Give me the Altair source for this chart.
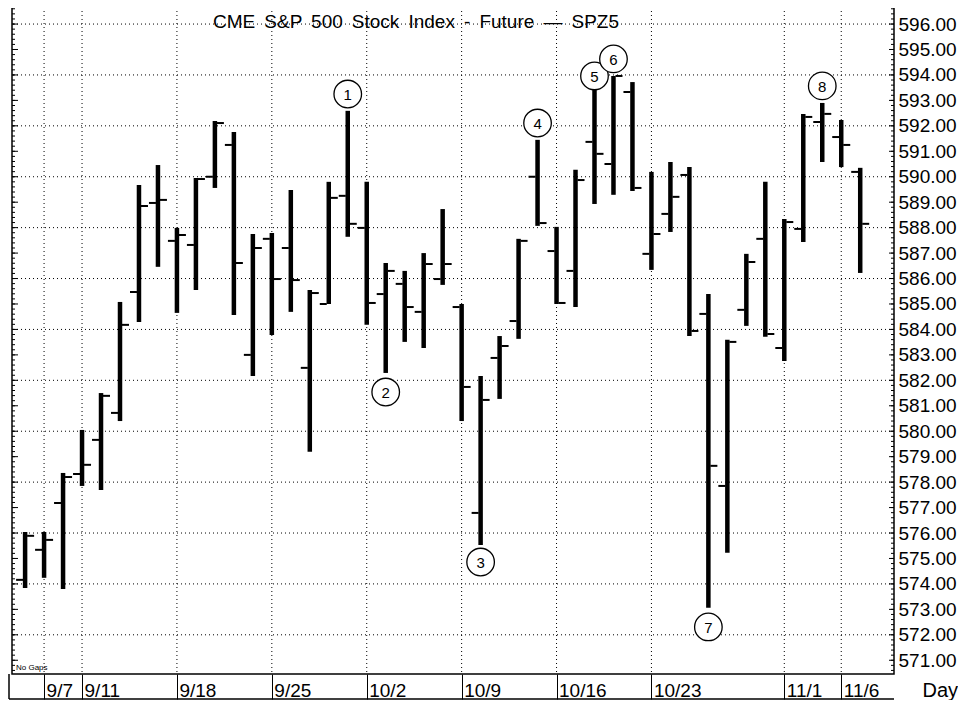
import altair as alt
import pandas as pd

# ---------------- data ----------------
dates = ["9/6", "9/7", "9/8", "9/11", "9/12", "9/13", "9/14", "9/15",
         "9/18", "9/19", "9/20", "9/21", "9/22", "9/25", "9/26", "9/27",
         "9/28", "9/29", "10/2", "10/3", "10/4", "10/5", "10/6", "10/9",
         "10/10", "10/11", "10/12", "10/13", "10/16", "10/17", "10/18",
         "10/19", "10/20", "10/23", "10/24", "10/25", "10/26", "10/27",
         "10/30", "10/31", "11/1", "11/2", "11/3", "11/6", "11/7"]
opens = [574.16, 575.34, 577.18, 578.32, 579.66, 580.72, 585.47, 588.97,
         587.48, 587.32, 590.00, 591.25, 583.00, 587.56, 587.20, 582.49,
         585.00, 589.25, 587.99, 585.39, 585.79, 584.69, 585.98, 584.88,
         576.79, 582.88, 584.33, 590.00, 587.08, 586.30, 591.37, 590.50,
         593.33, 586.97, 588.54, 590.07, 584.61, 577.85, 584.77, 587.56,
         583.27, 587.95, 592.15, 591.56, 590.19]
highs = [576.04, 576.04, 578.36, 580.05, 581.50, 585.08, 589.68, 590.46,
         587.99, 589.95, 592.19, 591.76, 587.75, 587.79, 589.48, 585.55,
         589.80, 592.59, 589.80, 586.61, 586.30, 587.00, 588.73, 585.00,
         582.17, 583.74, 587.56, 591.45, 588.03, 590.27, 593.41, 593.96,
         593.72, 590.19, 590.58, 590.38, 585.39, 583.59, 586.97, 589.80,
         588.34, 592.47, 592.90, 592.23, 590.35]
lows = [573.84, 574.24, 573.80, 577.85, 577.69, 580.40, 584.29, 586.46,
        584.65, 585.55, 589.56, 584.57, 582.17, 583.78, 584.69, 579.19,
        585.00, 587.64, 584.18, 582.29, 583.51, 583.27, 585.75, 580.40,
        575.53, 581.27, 583.63, 588.07, 585.00, 584.88, 588.93, 589.29,
        589.44, 586.34, 587.83, 583.74, 573.06, 575.22, 584.14, 583.71,
        582.76, 587.44, 590.58, 590.38, 586.22]
closes = [575.89, 575.73, 578.20, 578.68, 581.39, 584.18, 588.85, 589.09,
          587.71, 589.91, 592.11, 586.61, 587.20, 585.98, 585.94, 585.43,
          589.17, 588.15, 585.04, 586.30, 584.88, 586.57, 586.57, 581.74,
          581.23, 583.35, 587.48, 588.18, 585.04, 589.87, 590.90, 593.96,
          589.56, 587.75, 589.21, 583.94, 578.64, 583.51, 586.65, 583.82,
          588.22, 592.35, 592.47, 591.25, 588.15]

label_dates = ["9/7", "9/11", "9/18", "9/25", "10/2", "10/9", "10/16",
               "10/23", "11/1", "11/6"]

marker_nums = ["1", "2", "3", "4", "5", "6", "7", "8"]
marker_dates = ["9/29", "10/3", "10/10", "10/13", "10/18", "10/19", "10/26", "11/3"]
marker_prices = [593.25, 581.54, 574.86, 592.11, 593.96, 594.63, 572.31, 593.57]

price_labels = list(range(571, 597))
grid_prices = list(range(572, 597, 2))
minor_ticks = [round(570.6 + 0.2 * k, 1) for k in range(131)]

GAP = " \u2009"
title_text = GAP.join(["CME", "S&P", "500", "Stock", "Index", "-", "Future",
                       "\u2014", "SPZ5"])

# ---------------- layout ----------------
W, H = 882, 667
FONT = "Liberation Sans"
xs = alt.Scale(domain=[0.31, 46.78], nice=False, zero=False)
ys = alt.Scale(domain=[570.46, 596.67], nice=False, zero=False)

day_of = {d: i + 1 for i, d in enumerate(dates)}
bars = pd.DataFrame({"day": range(1, len(dates) + 1), "date": dates,
                     "open": opens, "high": highs, "low": lows, "close": closes})
vgrid = pd.DataFrame({"day": [day_of[d] for d in label_dates]})
hgrid = pd.DataFrame({"p": grid_prices})
marks = pd.DataFrame({"day": [day_of[d] for d in marker_dates],
                      "p": marker_prices, "n": marker_nums})
majors = pd.DataFrame({"p": price_labels})
minors = pd.DataFrame({"p": minor_ticks})

label_expr = "[" + ",".join("'" + d + "'" for d in [""] + dates) + "][datum.value]"

XAX = alt.Axis(values=[day_of[d] for d in label_dates],
               labelExpr=label_expr, grid=False, domain=False,
               ticks=True, tickSize=25, tickColor="black", tickWidth=1,
               labelAlign="left", labelBaseline="alphabetic",
               labelPadding=-3, labelOffset=2, labelFont=FONT,
               labelFontSize=19, labelColor="black", labelFlush=False,
               labelOverlap=False,
               title="Day", titleX=W + 28, titleY=22,
               titleAlign="left", titleBaseline="alphabetic",
               titleFont=FONT, titleFontSize=20,
               titleFontWeight="normal", titleColor="black")
YAX = alt.Axis(orient="right", values=price_labels, format=".2f",
               grid=False, domain=False, ticks=False,
               labelPadding=4, labelFont=FONT, labelFontSize=19,
               labelColor="black", labelOverlap=False,
               labelFlush=False, title=None)


def X(field):
    return alt.X(field, scale=xs, axis=XAX)


def Y(field):
    return alt.Y(field, scale=ys, axis=YAX)


dot = dict(color="black", strokeWidth=1, strokeDash=[1, 3])

hg = alt.Chart(hgrid).mark_rule(**dot).encode(y=Y("p:Q"))
vg = alt.Chart(vgrid).mark_rule(**dot).encode(x=X("day:Q"))

hl = alt.Chart(bars).mark_rule(color="black", strokeWidth=4.5).encode(
    x=X("day:Q"), y=Y("low:Q"), y2="high:Q")

op = alt.Chart(bars).mark_tick(orient="horizontal", size=7, thickness=2,
                               xOffset=-5.5, color="black", opacity=1).encode(
    x=X("day:Q"), y=Y("open:Q"))
cl = alt.Chart(bars).mark_tick(orient="horizontal", size=7, thickness=2,
                               xOffset=5.5, color="black", opacity=1).encode(
    x=X("day:Q"), y=Y("close:Q"))

circ = alt.Chart(marks).mark_point(shape="circle", size=760, fill="white",
                                   fillOpacity=1, filled=True, stroke="black",
                                   strokeWidth=1.3, opacity=1).encode(
    x=X("day:Q"), y=Y("p:Q"))
num = alt.Chart(marks).mark_text(font=FONT, fontSize=15, color="black",
                                 baseline="middle", align="center", dy=1).encode(
    x=X("day:Q"), y=Y("p:Q"), text="n:N")

ttl = alt.Chart(pd.DataFrame({"t": [title_text]})).mark_text(
    font=FONT, fontSize=19, color="black", align="center",
    baseline="alphabetic").encode(x=alt.value(404), y=alt.value(21), text="t:N")
nogaps = alt.Chart(pd.DataFrame({"t": ["No Gaps"]})).mark_text(
    font=FONT, fontSize=8, color="black", align="left",
    baseline="alphabetic").encode(x=alt.value(4), y=alt.value(663), text="t:N")

lmaj = alt.Chart(majors).mark_rule(color="black", strokeWidth=1).encode(
    y=Y("p:Q"), x=alt.value(0), x2=alt.value(6))
lmin = alt.Chart(minors).mark_rule(color="black", strokeWidth=1).encode(
    y=Y("p:Q"), x=alt.value(0), x2=alt.value(3))
rmaj = alt.Chart(majors).mark_rule(color="black", strokeWidth=1).encode(
    y=Y("p:Q"), x=alt.value(W - 5), x2=alt.value(W))
rmin = alt.Chart(minors).mark_rule(color="black", strokeWidth=1).encode(
    y=Y("p:Q"), x=alt.value(W - 3), x2=alt.value(W))

box_bottom = alt.Chart(pd.DataFrame({"t": [0]})).mark_rule(
    color="black", strokeWidth=1.5).encode(
    x=alt.value(-3), x2=alt.value(W), y=alt.value(H + 25))
box_left = alt.Chart(pd.DataFrame({"t": [0]})).mark_rule(
    color="black", strokeWidth=1.5).encode(
    x=alt.value(-3), y=alt.value(H), y2=alt.value(H + 25))

chart = alt.layer(hg, vg, lmin, lmaj, rmin, rmaj, hl, op, cl, circ, num, ttl,
                  nogaps, box_bottom, box_left).properties(
    width=W, height=H,
    padding={"left": 0, "top": -2, "right": 0, "bottom": 0},
    background="white",
).configure_view(stroke="black", strokeWidth=1.5)

chart.save("out.html", embed_options={"renderer": "svg", "actions": False})
